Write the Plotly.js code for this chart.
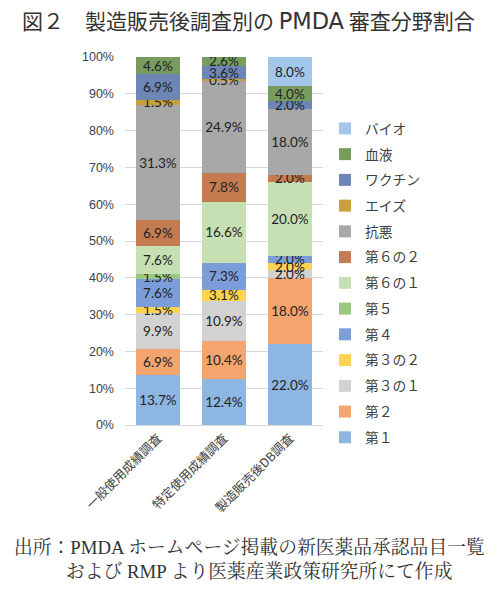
<!DOCTYPE html>
<html>
<head>
<meta charset="utf-8">
<script src="https://cdn.plot.ly/plotly-3.0.1.min.js"></script>
<style>
  html, body { margin: 0; padding: 0; background: #fff; }
  #chart { width: 500px; height: 590px; }
</style>
</head>
<body>
<div id="chart"></div>
<script>
// カテゴリ（調査の種類）
const surveys = ['一般使用成績調査', '特定使用成績調査', '製造販売後DB調査'];

// 審査分野（下から積み上げる順）
const fields = ['第１', '第２', '第３の１', '第３の２', '第４', '第５', '第６の１', '第６の２', '抗悪', 'エイズ', 'ワクチン', '血液', 'バイオ'];

// 各分野の割合（%）: [一般, 特定, DB]
const dai1     = [13.7, 12.4, 22.0];
const dai2     = [6.9, 10.4, 18.0];
const dai3_1   = [9.9, 10.9, 2.0];
const dai3_2   = [1.5, 3.1, 2.0];
const dai4     = [7.6, 7.3, 2.0];
const dai5     = [1.5, 0, 0];
const dai6_1   = [7.6, 16.6, 20.0];
const dai6_2   = [6.9, 7.8, 2.0];
const kouaku   = [31.3, 24.9, 18.0];
const aids     = [1.5, 0.5, 0];
const vaccine  = [6.9, 3.6, 2.0];
const ketsueki = [4.6, 2.6, 4.0];
const bio      = [0, 0, 8.0];

const values = [dai1, dai2, dai3_1, dai3_2, dai4, dai5, dai6_1, dai6_2, kouaku, aids, vaccine, ketsueki, bio];

const colors = ['#8db6e2', '#f3a46f', '#d2d2d2', '#ffd34f', '#7b9edb', '#9cc77f', '#c6e0b4',
                '#c47b4f', '#a8a8a8', '#c7a03c', '#6d86b5', '#789c5e', '#a2c7eb'];

// 0 のところはラベルを出さない、凡例は上からバイオ→第１
const traces = fields.map((name, i) => ({
    type: 'bar',
    name: name,
    x: surveys,
    y: values[i],
    legendgroup: 'g' + i,
    legendrank: 100 - i,
    text: values[i].map(v => v > 0 ? v.toFixed(1) + '%' : ''),
    textposition: 'inside',
    insidetextanchor: 'middle',
    textfont: {family: 'Lato, "Open Sans", sans-serif', size: 13.5, color: '#222'},
    marker: {color: colors[i], line: {width: 0}},
    hoverinfo: 'name+y'
}));

const layout = {
    width: 500,
    height: 590,
    margin: {l: 125, r: 177, t: 57, b: 165},
    paper_bgcolor: '#fff',
    plot_bgcolor: '#fff',
    barmode: 'stack',
    bargap: 0.32,
    showlegend: true,
    uniformtext: {mode: 'show', minsize: 13.5},
    title: {
        text: '図２　製造販売後調査別の <span style="font-family:DejaVu Sans;font-size:22.5px">PMDA</span> 審査分野割合',
        x: 0.044, xanchor: 'left', xref: 'container',
        y: 0.963, yanchor: 'middle', yref: 'container',
        font: {family: '"Noto Sans CJK JP", sans-serif', size: 21, color: '#333'}
    },
    xaxis: {
        type: 'category',
        tickangle: -45,
        tickfont: {family: '"Noto Sans CJK JP", sans-serif', size: 12.5, color: '#404040'},
        showline: true, linecolor: '#d9d9d9', linewidth: 1,
        ticks: '', fixedrange: true
    },
    yaxis: {
        range: [0, 100],
        dtick: 10,
        ticksuffix: '%',
        tickfont: {family: '"Liberation Sans", Arial, sans-serif', size: 12.5, color: '#404040'},
        ticklabelstandoff: 10,
        gridcolor: '#d9d9d9', gridwidth: 1,
        zeroline: false, showline: false, fixedrange: true
    },
    legend: {
        x: 1.01, xanchor: 'left',
        y: 0.848, yanchor: 'top',
        traceorder: 'grouped',
        tracegroupgap: 4.8,
        font: {family: '"Noto Sans CJK JP", sans-serif', size: 13.8, color: '#404040'},
        itemwidth: 30,
        bgcolor: 'rgba(0,0,0,0)'
    },
    annotations: [
        {
            text: '出所：PMDA ホームページ掲載の新医薬品承認品目一覧',
            xref: 'paper', yref: 'paper', x: 0.63, y: -0.334,
            xanchor: 'center', yanchor: 'middle', showarrow: false,
            font: {family: '"Liberation Serif", "Noto Serif CJK JP", serif', size: 18.8, color: '#333'}
        },
        {
            text: 'および RMP より医薬産業政策研究所にて作成',
            xref: 'paper', yref: 'paper', x: 0.68, y: -0.397,
            xanchor: 'center', yanchor: 'middle', showarrow: false,
            font: {family: '"Liberation Serif", "Noto Serif CJK JP", serif', size: 18.8, color: '#333'}
        }
    ]
};

Plotly.newPlot('chart', traces, layout, {displayModeBar: false, staticPlot: true});
</script>
</body>
</html>
